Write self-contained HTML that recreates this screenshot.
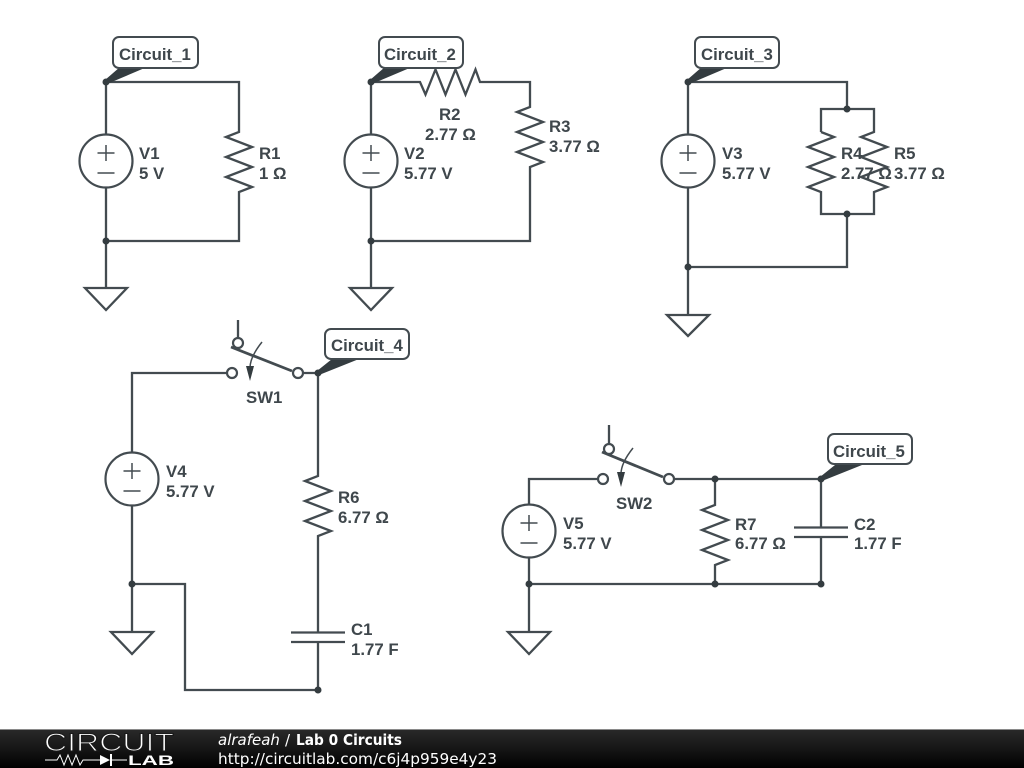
<!DOCTYPE html>
<html>
<head>
<meta charset="utf-8">
<style>
html,body{margin:0;padding:0;background:#fff;width:1024px;height:768px;overflow:hidden}
svg{display:block}
.w{fill:none;stroke:#434b50;stroke-width:2.3;stroke-linejoin:miter}
.s{fill:none;stroke:#434b50;stroke-width:1.5}
.a{fill:none;stroke:#434b50;stroke-width:2.8}
.c{fill:#fff;stroke:#434b50;stroke-width:2.2}
.n{fill:#343c40}
.t{font-family:"Liberation Sans",sans-serif;font-weight:bold;font-size:16.8px;fill:#3f474c}
.l{fill:#fff;stroke:#434b50;stroke-width:2}
.f{font-family:"DejaVu Sans",sans-serif;font-size:15px;fill:#fff}
</style>
</head>
<body>
<svg width="1024" height="768" viewBox="0 0 1024 768" xmlns="http://www.w3.org/2000/svg">
<defs>
<linearGradient id="g" x1="0" y1="0" x2="0" y2="1"><stop offset="0" stop-color="#2a2a2a"/><stop offset="0.5" stop-color="#161616"/><stop offset="1" stop-color="#000"/></linearGradient>
</defs>
<rect width="1024" height="768" fill="#fff"/>

<!-- Circuit 1 -->
<path class="w" d="M106 135V82H239V132L226 137L252 147L226 157L252 167L226 177L252 187L239 192V241H106M106 187V288"/>
<circle class="c" cx="106" cy="161" r="26.5"/>
<path class="s" d="M97.5 153H114.5M106 145V161M97.5 173H114.5"/>
<path class="w" d="M85 288H127L106 310Z"/>
<circle class="n" cx="106" cy="241" r="3.5"/>
<path class="n" d="M105 80L120 67L147 67L107 84Z"/>
<circle class="n" cx="106" cy="82" r="3.5"/>
<rect class="l" x="113" y="37" width="85" height="31" rx="6"/>
<text class="t" x="119" y="60">Circuit_1</text>
<text class="t" x="139" y="159">V1</text><text class="t" x="139" y="179">5 V</text>
<text class="t" x="259" y="159">R1</text><text class="t" x="259" y="179">1 Ω</text>

<!-- Circuit 2 -->
<path class="w" d="M371 135V82H420L425.5 94.5L435.5 69.5L445.5 94.5L455.5 69.5L465.5 94.5L475.5 69.5L480 82H530V107L517 112L543 122L517 132L543 142L517 152L543 162L530 167V241H371M371 187V288"/>
<circle class="c" cx="371" cy="161" r="26.5"/>
<path class="s" d="M362.5 153H379.5M371 145V161M362.5 173H379.5"/>
<path class="w" d="M350 288H392L371 310Z"/>
<circle class="n" cx="371" cy="241" r="3.5"/>
<path class="n" d="M370 80L385 67L412 67L372 84Z"/>
<circle class="n" cx="371" cy="82" r="3.5"/>
<rect class="l" x="379" y="37" width="84" height="31" rx="6"/>
<text class="t" x="384" y="60">Circuit_2</text>
<text class="t" x="404" y="159">V2</text><text class="t" x="404" y="179">5.77 V</text>
<text class="t" x="439" y="120">R2</text><text class="t" x="425" y="140">2.77 Ω</text>
<text class="t" x="549" y="132">R3</text><text class="t" x="549" y="152">3.77 Ω</text>

<!-- Circuit 3 -->
<path class="w" d="M688 135V82H847V109M821 132V109H874V132L861 137L887 147L861 157L887 167L861 177L887 187L874 192V214H821V192L808 187L834 177L808 167L834 157L808 147L834 137L821 132M847 214V267H688M688 187V315"/>
<circle class="c" cx="688" cy="161" r="26.5"/>
<path class="s" d="M679.5 153H696.5M688 145V161M679.5 173H696.5"/>
<path class="w" d="M667 315H709L688 336Z"/>
<circle class="n" cx="847" cy="109" r="3.5"/>
<circle class="n" cx="847" cy="214" r="3.5"/>
<circle class="n" cx="688" cy="267" r="3.5"/>
<path class="n" d="M687 80L702 67L729 67L689 84Z"/>
<circle class="n" cx="688" cy="82" r="3.5"/>
<rect class="l" x="695" y="37" width="84" height="31" rx="6"/>
<text class="t" x="701" y="60">Circuit_3</text>
<text class="t" x="722" y="159">V3</text><text class="t" x="722" y="179">5.77 V</text>
<text class="t" x="841" y="159">R4</text><text class="t" x="841" y="179">2.77 Ω</text>
<text class="t" x="894" y="159">R5</text><text class="t" x="894" y="179">3.77 Ω</text>

<!-- Circuit 4 -->
<path class="w" d="M132 453V373H227M303 373H318V476L305 481L331 491L305 501L331 511L305 521L331 531L318 536V632.5M291 632.5H345M291 642H345M318 642V690H185V584H132M132 505V632"/>
<circle class="c" cx="132" cy="479" r="26.5"/>
<path class="s" d="M123.5 471H140.5M132 463V479M123.5 491H140.5"/>
<path class="w" d="M111 632H153L132 654Z"/>
<path class="w" d="M238 320V338"/>
<path class="a" d="M231 347L292 371"/>
<path class="s" d="M262 342C254 352 250 360 250 368"/>
<path class="n" d="M246 366H254L250 381Z"/>
<circle class="c" cx="238" cy="343" r="5"/>
<circle class="c" cx="232" cy="373" r="5"/>
<circle class="c" cx="298" cy="373" r="5"/>
<circle class="n" cx="132" cy="584" r="3.5"/>
<circle class="n" cx="318" cy="690" r="3.5"/>
<path class="n" d="M317 371L332 359L359 359L319 375Z"/>
<circle class="n" cx="318" cy="373" r="3.5"/>
<rect class="l" x="325" y="329" width="84" height="30" rx="6"/>
<text class="t" x="331" y="351">Circuit_4</text>
<text class="t" x="246" y="403">SW1</text>
<text class="t" x="166" y="477">V4</text><text class="t" x="166" y="497">5.77 V</text>
<text class="t" x="338" y="503">R6</text><text class="t" x="338" y="523">6.77 Ω</text>
<text class="t" x="351" y="635">C1</text><text class="t" x="351" y="655">1.77 F</text>

<!-- Circuit 5 -->
<path class="w" d="M529 505V479H598M674 479H821V527M715 479V505L702 510L728 520L702 530L728 540L702 550L728 560L715 565V584M794 527.5H848M794 537H848M821 537V584H529V632M529 557V584"/>
<circle class="c" cx="529" cy="531" r="26.5"/>
<path class="s" d="M520.5 523H537.5M529 515V531M520.5 543H537.5"/>
<path class="w" d="M508 632H550L529 654Z"/>
<path class="w" d="M609 425V444"/>
<path class="a" d="M602 452L663 477"/>
<path class="s" d="M633 448C625 458 621 466 621 474"/>
<path class="n" d="M617 472H625L621 487Z"/>
<circle class="c" cx="609" cy="449" r="5"/>
<circle class="c" cx="603" cy="479" r="5"/>
<circle class="c" cx="669" cy="479" r="5"/>
<circle class="n" cx="715" cy="479" r="3.5"/>
<circle class="n" cx="715" cy="584" r="3.5"/>
<circle class="n" cx="821" cy="584" r="3.5"/>
<circle class="n" cx="529" cy="584" r="3.5"/>
<path class="n" d="M820 477L835 465L862 465L822 481Z"/>
<circle class="n" cx="821" cy="479" r="3.5"/>
<rect class="l" x="828" y="434" width="84" height="30" rx="6"/>
<text class="t" x="833" y="457">Circuit_5</text>
<text class="t" x="616" y="509">SW2</text>
<text class="t" x="563" y="529">V5</text><text class="t" x="563" y="549">5.77 V</text>
<text class="t" x="735" y="530">R7</text><text class="t" x="735" y="549">6.77 Ω</text>
<text class="t" x="854" y="530">C2</text><text class="t" x="854" y="549">1.77 F</text>

<!-- Footer -->
<rect x="0" y="729" width="1024" height="39" fill="url(#g)"/>
<rect x="0" y="729" width="1024" height="1" fill="#8a8a8a"/>
<text x="44" y="751" font-family="Liberation Sans,sans-serif" font-size="25" fill="#fff" stroke="#1a1a1a" stroke-width="1.1" textLength="130" lengthAdjust="spacingAndGlyphs">CIRCUIT</text>
<path d="M45 760H57L60 755L64 765L68 755L72 765L76 755L80 765L83 760H100M112 760H127" fill="none" stroke="#fff" stroke-width="1"/>
<path d="M100 755L110 760L100 765ZM110 754H112V766H110Z" fill="#fff"/>
<text x="128" y="765" font-family="Liberation Sans,sans-serif" font-weight="bold" font-size="14" fill="#fff" textLength="46" lengthAdjust="spacingAndGlyphs">LAB</text>
<text class="f" x="218" y="745" font-style="italic">alrafeah</text>
<text class="f" x="285" y="745">/</text>
<text class="f" x="296" y="745" font-weight="bold" textLength="106" lengthAdjust="spacingAndGlyphs">Lab 0 Circuits</text>
<text class="f" x="218" y="764" textLength="279" lengthAdjust="spacingAndGlyphs">http://circuitlab.com/c6j4p959e4y23</text>
</svg>
</body>
</html>
